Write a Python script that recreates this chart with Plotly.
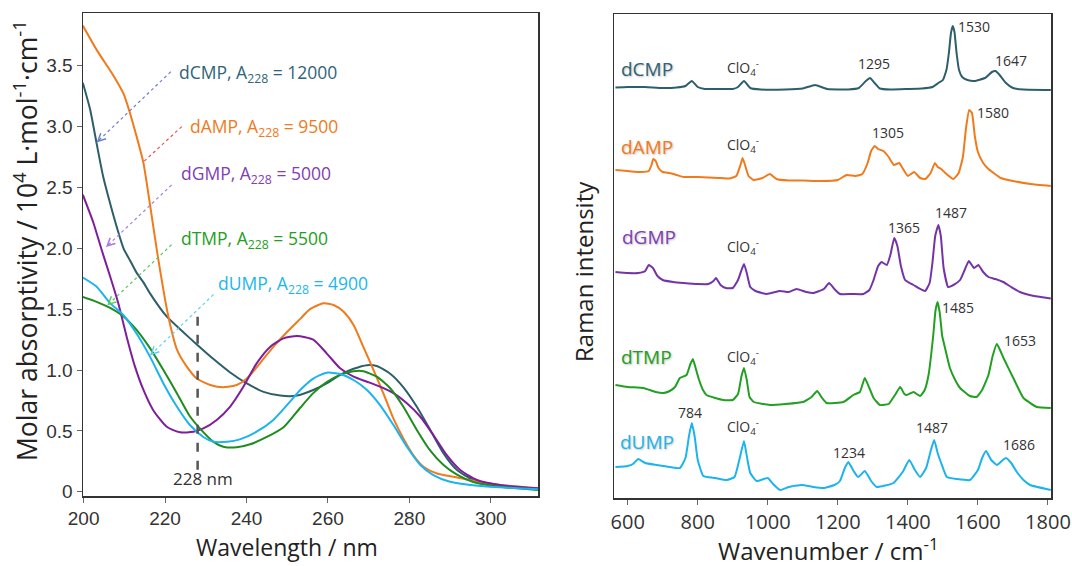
import plotly.graph_objects as go

# ---------------- UV absorption data (wavelength nm, 10^4 L/mol/cm) ----------------
dcmp_wl = [199.8, 201.6, 203.2, 204.8, 206.5, 208.1, 209.8, 211.4, 213.0, 214.7, 216.3, 220.4, 224.5,
           227.8, 231.9, 236.0, 240.1, 244.2, 248.3, 252.4, 256.4, 259.7, 263.0, 266.3, 269.6, 272.0,
           275.3, 278.5, 281.8, 285.1, 288.4, 291.7, 295.7, 300.7, 311.6]
dcmp_uv = [3.36, 3.14, 2.86, 2.59, 2.37, 2.18, 2.00, 1.90, 1.80, 1.72, 1.63, 1.44, 1.31,
           1.21, 1.09, 0.98, 0.89, 0.82, 0.79, 0.79, 0.836, 0.89, 0.96, 1.01, 1.04, 1.033,
           0.97, 0.86, 0.70, 0.51, 0.315, 0.178, 0.096, 0.055, 0.02]

damp_wl = [199.8, 203.2, 207.3, 209.8, 211.4, 213.0, 214.7, 216.3, 218.1, 220.0, 221.2, 222.9,
           225.3, 227.8, 231.1, 234.3, 237.6, 240.1, 243.3, 246.6, 249.9, 253.2, 255.6, 258.9, 261.4,
           263.8, 266.3, 268.7, 271.2, 273.6, 276.1, 278.5, 281.0, 283.5, 286.8, 290.8, 295.7, 302.3, 311.6]
damp_uv = [3.83, 3.63, 3.42, 3.27, 3.11, 2.92, 2.70, 2.36, 1.96, 1.58, 1.38, 1.17,
           1.03, 0.93, 0.877, 0.858, 0.877, 0.93, 1.055, 1.19, 1.31, 1.42, 1.50, 1.548, 1.534,
           1.48, 1.37, 1.19, 1.00, 0.81, 0.60, 0.44, 0.30, 0.205, 0.15, 0.123, 0.09, 0.055, 0.028]

dgmp_wl = [199.8, 202.4, 204.4, 206.5, 208.5, 210.6, 212.6, 214.7, 217.1, 220.4, 223.7, 227.0, 229.4,
           232.7, 236.0, 239.2, 242.5, 245.8, 249.1, 252.4, 256.4, 259.7, 263.0, 266.3, 269.6, 272.8,
           276.1, 279.4, 282.7, 285.9, 289.2, 292.5, 296.6, 302.3, 311.6]
dgmp_uv = [2.44, 2.21, 1.99, 1.77, 1.55, 1.27, 1.03, 0.836, 0.67, 0.534, 0.488, 0.493, 0.52,
           0.59, 0.70, 0.86, 1.055, 1.19, 1.26, 1.28, 1.25, 1.137, 1.014, 0.945, 0.904, 0.863,
           0.81, 0.726, 0.616, 0.466, 0.30, 0.178, 0.096, 0.055, 0.028]

dtmp_wl = [199.8, 203.2, 206.5, 209.8, 213.0, 216.3, 219.6, 222.9, 226.1, 229.4, 231.9, 234.3, 237.6,
           240.9, 245.0, 249.1, 253.2, 256.4, 259.7, 263.0, 266.3, 268.7, 272.0, 275.3, 278.5, 281.8,
           285.1, 288.4, 291.7, 295.7, 300.7, 311.6]
dtmp_uv = [1.60, 1.56, 1.51, 1.44, 1.33, 1.18, 1.00, 0.81, 0.62, 0.49, 0.41, 0.37, 0.365,
           0.39, 0.45, 0.53, 0.69, 0.81, 0.90, 0.96, 0.99, 0.99, 0.945, 0.85, 0.70, 0.51,
           0.34, 0.22, 0.14, 0.08, 0.047, 0.015]

dump_wl = [199.8, 203.2, 206.5, 209.8, 213.0, 216.3, 219.6, 222.9, 226.1, 229.4, 231.9, 235.2, 238.4,
           242.5, 246.6, 250.7, 253.2, 256.4, 259.7, 263.0, 266.3, 269.6, 272.8, 276.1, 279.4, 282.7,
           285.9, 290.0, 294.1, 302.3, 311.6]
dump_uv = [1.76, 1.685, 1.55, 1.45, 1.30, 1.11, 0.89, 0.70, 0.548, 0.45, 0.41, 0.41, 0.43,
           0.493, 0.59, 0.74, 0.836, 0.93, 0.978, 0.967, 0.918, 0.836, 0.712, 0.548, 0.37, 0.22,
           0.137, 0.082, 0.06, 0.036, 0.02]

uv_ticks = [0, 0.5, 1.0, 1.5, 2.0, 2.5, 3.0, 3.5]
uv_ticktext = ["0", "0.5", "1.0", "1.5", "2.0", "2.5", "3.0", "3.5"]

# ---------------- Raman data (wavenumber cm-1, stacked intensity a.u.) ----------------
dcmp_nu = [565, 600, 650, 700, 740, 765, 783, 800, 820, 860, 900, 915, 932, 950, 980, 1050, 1100,
           1135, 1170, 1230, 1260, 1280, 1292, 1305, 1320, 1350, 1400, 1440, 1470, 1487, 1500, 1510,
           1517, 1523, 1528, 1533, 1539, 1546, 1555, 1570, 1590, 1620, 1640, 1650, 1662, 1680, 1700,
           1730, 1808]
dcmp_ra = [410.5, 411, 411, 410, 410.5, 412, 417, 411, 409, 409, 409, 411, 417, 410, 408.5, 408.5, 409.5,
           413, 409, 408.5, 410, 417, 420, 415, 409.5, 408.5, 409, 409.5, 411, 415, 418, 428,
           445, 465, 472, 466, 445, 428, 421, 418, 417, 420, 426, 427, 423, 415, 410,
           408.5, 408]

damp_nu = [565, 600, 640, 660, 668, 673, 680, 688, 700, 720, 740, 760, 800, 830, 860, 890, 910, 922,
           928, 935, 945, 960, 985, 1006, 1025, 1060, 1100, 1150, 1200, 1225, 1250, 1270, 1285, 1295,
           1305, 1315, 1330, 1345, 1360, 1375, 1388, 1400, 1418, 1435, 1450, 1465, 1477, 1485, 1495,
           1510, 1530, 1545, 1557, 1566, 1575, 1583, 1591, 1600, 1615, 1630, 1645, 1665, 1700, 1750, 1808]
damp_ra = [328, 327, 326, 327, 333, 339, 337, 330, 326, 325, 323, 321, 321, 320.5, 320, 319.5, 322, 333,
           340, 333, 322, 318, 320, 324, 319, 317.5, 317.5, 317, 318, 323, 322, 324, 335, 347,
           352, 349, 347, 341, 333, 335, 328, 322, 326, 320, 319, 325, 335, 331, 329,
           324, 319, 325, 341, 370, 388, 385, 362, 346, 335, 329, 325, 320, 317, 314, 312]

dgmp_nu = [565, 600, 630, 650, 660, 672, 685, 700, 730, 760, 800, 830, 845, 852, 865, 880, 900, 915,
           925, 932, 940, 950, 965, 997, 1035, 1060, 1082, 1110, 1130, 1160, 1175, 1190, 1206, 1240,
           1273, 1290, 1302, 1315, 1325, 1340, 1350, 1361, 1370, 1380, 1392, 1405, 1416, 1430, 1449,
           1462, 1470, 1478, 1487, 1494, 1502, 1515, 1530, 1549, 1562, 1574, 1589, 1601, 1615, 1630,
           1650, 1672, 1695, 1720, 1760, 1808]
dgmp_ra = [226, 225, 225, 227, 233, 230, 222, 218, 216, 215, 214, 214, 217, 220, 213, 210, 210, 218,
           228, 234, 225, 211, 207, 204, 207, 206, 209, 206, 205, 209, 215, 209, 204, 204,
           204, 208, 218, 232, 236, 233, 243, 260, 252, 232, 218, 215, 213, 210, 207,
           215, 235, 262, 273, 262, 230, 211, 213, 218, 228, 237, 230, 233, 226, 221,
           219, 216, 211, 206, 202, 199.5]

dtmp_nu = [565, 600, 645, 680, 702, 720, 735, 749, 768, 778, 786, 794, 802, 815, 825, 850, 873, 900,
           915, 925, 932, 940, 948, 960, 1006, 1050, 1101, 1125, 1141, 1155, 1168, 1216, 1244, 1263,
           1277, 1290, 1302, 1320, 1345, 1365, 1378, 1390, 1397, 1416, 1435, 1448, 1459, 1467, 1473,
           1479, 1485, 1491, 1498, 1506, 1520, 1535, 1549, 1577, 1596, 1612, 1630, 1642, 1654, 1663,
           1673, 1701, 1730, 1768, 1808]
dtmp_ra = [113, 111, 110, 106, 105, 107, 111, 120, 123, 133, 139, 130, 120, 108, 103, 100, 98, 98,
           104, 122, 130, 118, 101, 96, 93, 94, 96, 101, 107, 100, 95, 96, 103, 106,
           120, 110, 100, 93, 94, 104, 111, 104, 103, 106, 102, 108, 123, 145, 165,
           188, 196, 185, 162, 150, 130, 118, 110, 102, 101, 108, 123, 142, 154, 148,
           140, 120, 100, 91, 90]

dump_nu = [565, 600, 615, 630, 650, 683, 720, 749, 765, 775, 783, 791, 800, 816, 850, 883, 905, 920,
           932, 942, 950, 968, 1000, 1015, 1035, 1060, 1097, 1130, 1159, 1190, 1206, 1220, 1230, 1245,
           1258, 1277, 1295, 1311, 1359, 1385, 1404, 1420, 1435, 1452, 1465, 1475, 1485, 1495, 1511,
           1540, 1577, 1600, 1612, 1623, 1638, 1654, 1668, 1680, 1695, 1711, 1730, 1749, 1808]
dump_ra = [31, 32, 34, 39, 35, 33, 31, 30, 40, 62, 75, 62, 38, 22, 20, 18, 21, 40,
           57, 38, 25, 17, 20, 14, 8, 11, 13, 11, 10, 13, 17, 30, 36, 27,
           21, 27, 17, 11, 15, 26, 38, 28, 21, 30, 47, 58, 45, 35, 21,
           19, 18, 28, 40, 47, 38, 33, 37, 40, 35, 26, 18, 13, 8]

names = ["dCMP", "dAMP", "dGMP", "dTMP", "dUMP"]
uv_labels = ["12000", "9500", "5000", "5500", "4900"]
raman_peaks = [("dCMP", [1295, 1530, 1647]), ("dAMP", [1305, 1580]), ("dGMP", [1365, 1487]),
               ("dTMP", [1485, 1653]), ("dUMP", [784, 1234, 1487, 1686])]

uv_colors = {"dCMP": "#2D5F6B", "dAMP": "#F07A1C", "dGMP": "#7E1E9C", "dTMP": "#1E8C1E", "dUMP": "#1CB3EE"}
ra_colors = {"dCMP": "#2D5F6B", "dAMP": "#F07A1C", "dGMP": "#7434A8", "dTMP": "#22A022", "dUMP": "#1CB3EE"}
lab_colors = {"dCMP": "#2F6478", "dAMP": "#F07A1C", "dGMP": "#8040B4", "dTMP": "#22A022", "dUMP": "#1CB6EE"}
arrow_colors = {"dCMP": "#6C80C8", "dAMP": "#E25656", "dGMP": "#A77AD8", "dTMP": "#5CC85C", "dUMP": "#60CCF2"}

uv_series = {"dCMP": (dcmp_wl, dcmp_uv), "dAMP": (damp_wl, damp_uv), "dGMP": (dgmp_wl, dgmp_uv),
             "dTMP": (dtmp_wl, dtmp_uv), "dUMP": (dump_wl, dump_uv)}
ra_series = {"dCMP": (dcmp_nu, dcmp_ra), "dAMP": (damp_nu, damp_ra), "dGMP": (dgmp_nu, dgmp_ra),
             "dTMP": (dtmp_nu, dtmp_ra), "dUMP": (dump_nu, dump_ra)}

fig = go.Figure()
for n in names:
    x, y = uv_series[n]
    fig.add_trace(go.Scatter(x=x, y=y, mode="lines", line=dict(color=uv_colors[n], width=2, shape="spline", smoothing=0.6),
                             xaxis="x", yaxis="y", showlegend=False, hoverinfo="skip"))
for n in names:
    x, y = ra_series[n]
    fig.add_trace(go.Scatter(x=x, y=y, mode="lines", line=dict(color=ra_colors[n], width=2, shape="spline", smoothing=0.4),
                             xaxis="x2", yaxis="y2", showlegend=False, hoverinfo="skip"))

W, H = 1072, 566
ann = []
shapes = []

# ---- Left panel annotations ----
text_pos = {"dCMP": (222.9, 3.44), "dAMP": (225.7, 2.99), "dGMP": (223.4, 2.61),
            "dTMP": (223.4, 2.07), "dUMP": (232.5, 1.70)}
arrows = {"dCMP": ((221.4, 3.45), (203.2, 2.87)), "dAMP": ((224.1, 3.00), (214.7, 2.71)),
          "dGMP": ((221.6, 2.52), (205.5, 2.01)), "dTMP": ((221.6, 2.03), (205.8, 1.53)),
          "dUMP": ((231.9, 1.62), (216.3, 1.12))}
for n, lab in zip(names, uv_labels):
    tx, ty = text_pos[n]
    ann.append(dict(x=tx, y=ty, xref="x", yref="y", xanchor="left", yanchor="middle", showarrow=False,
                    text=f"{n}, A<sub>228</sub> = {lab}",
                    font=dict(family="Open Sans", size=17.5, color=lab_colors[n])))
    (x0, y0), (x1, y1) = arrows[n]
    shapes.append(dict(type="line", xref="x", yref="y", x0=x0, y0=y0, x1=x1, y1=y1,
                       line=dict(color=arrow_colors[n], width=1.2, dash="dot")))
    fx = x1 + (x0 - x1) * 0.06
    fy = y1 + (y0 - y1) * 0.06
    ann.append(dict(x=x1, y=y1, ax=fx, ay=fy, xref="x", yref="y", axref="x", ayref="y", text="",
                    showarrow=True, arrowhead=5, arrowsize=1.5, arrowwidth=1, arrowcolor=arrow_colors[n]))

shapes.append(dict(type="line", xref="x", yref="y", x0=228, x1=228, y0=0.18, y1=1.48,
                   line=dict(color="#555555", width=2.5, dash="dash")))
ann.append(dict(x=229.3, y=0.11, xref="x", yref="y", xanchor="center", yanchor="middle", showarrow=False,
                text="228 nm", font=dict(family="Open Sans", size=17, color="#333333")))

# ---- Right panel annotations ----
ra_lab_pos = {"dCMP": (655, 429), "dAMP": (656.5, 351), "dGMP": (659.7, 261), "dTMP": (655, 141), "dUMP": (656.5, 56)}
for n in names:
    x, y = ra_lab_pos[n]
    ann.append(dict(x=x, y=y, xref="x2", yref="y2", xanchor="center", yanchor="middle", showarrow=False, text=n,
                    font=dict(family="Open Sans", size=19, color=lab_colors[n],
                              shadow="1px 1px 2px rgba(0,0,0,0.25)")))
clo4_y = {"dCMP": 429.7, "dAMP": 353, "dGMP": 251.3, "dTMP": 140.7, "dUMP": 71.3}
for n in names:
    ann.append(dict(x=930.6, y=clo4_y[n], xref="x2", yref="y2", xanchor="center", yanchor="middle",
                    showarrow=False, text="ClO<sub>4</sub><sup>-</sup>",
                    font=dict(family="Open Sans", size=14, color="#333333")))
peak_lab_pos = {("dCMP", 1295): (1303, 434), ("dCMP", 1530): (1589, 471), ("dCMP", 1647): (1694, 437),
                ("dAMP", 1305): (1342, 365), ("dAMP", 1580): (1642, 385),
                ("dGMP", 1365): (1389, 270), ("dGMP", 1487): (1523, 285),
                ("dTMP", 1485): (1543, 191), ("dTMP", 1653): (1720, 158),
                ("dUMP", 784): (778, 86), ("dUMP", 1234): (1232, 46), ("dUMP", 1487): (1470, 71),
                ("dUMP", 1686): (1717, 54)}
for n, peaks in raman_peaks:
    for p in peaks:
        x, y = peak_lab_pos[(n, p)]
        ann.append(dict(x=x, y=y, xref="x2", yref="y2", xanchor="center", yanchor="middle",
                        showarrow=False, text=str(p),
                        font=dict(family="Open Sans", size=14, color="#333333")))

# ---- axis titles ----
ann.append(dict(x=26 / W, y=1 - 241 / H, xref="paper", yref="paper", xanchor="center", yanchor="middle",
                showarrow=False, textangle=-90,
                text="Molar absorptivity / 10<sup>4</sup> L·mol<sup>-1</sup>·cm<sup>-1</sup>",
                font=dict(family="Open Sans", size=26.5, color="#222222")))
ann.append(dict(x=287 / W, y=1 - 547 / H, xref="paper", yref="paper", xanchor="center", yanchor="middle",
                showarrow=False, text="Wavelength / nm", font=dict(family="Open Sans", size=23, color="#222222")))
ann.append(dict(x=583 / W, y=1 - 272 / H, xref="paper", yref="paper", xanchor="center", yanchor="middle",
                showarrow=False, textangle=-90,
                text="Raman intensity", font=dict(family="Open Sans", size=24, color="#222222")))
ann.append(dict(x=828 / W, y=1 - 549 / H, xref="paper", yref="paper", xanchor="center", yanchor="middle",
                showarrow=False, text="Wavenumber / cm<sup>-1</sup>",
                font=dict(family="Open Sans", size=24, color="#222222")))

axis_common = dict(showline=True, mirror=True, linecolor="#333333", linewidth=1.5, showgrid=False,
                   zeroline=False, automargin=False)

fig.update_layout(
    template="none",
    width=W, height=H, margin=dict(l=0, r=0, t=0, b=0, pad=0, autoexpand=False), autosize=False,
    paper_bgcolor="white", plot_bgcolor="white", showlegend=False,
    xaxis=dict(domain=[83 / W, 538 / W], range=[199.85, 311.6], tick0=200, dtick=20, ticks="outside",
               ticklen=5, tickcolor="#666666", anchor="y",
               tickfont=dict(family="Liberation Sans", size=19, color="#333333"), **axis_common),
    yaxis=dict(domain=[1 - 496 / H, 1 - 13 / H], range=[-0.035, 3.933], tickvals=uv_ticks, ticktext=uv_ticktext,
               ticks="outside", ticklen=5, tickcolor="#666666", anchor="x",
               tickfont=dict(family="Liberation Sans", size=19, color="#333333"), **axis_common),
    xaxis2=dict(domain=[614 / W, 1051 / W], range=[560.9, 1808.6], tick0=600, dtick=200, ticks="outside",
                ticklen=5, tickcolor="#666666", anchor="y2",
                tickfont=dict(family="Open Sans", size=20, color="#333333"), **axis_common),
    yaxis2=dict(domain=[1 - 498 / H, 1 - 14 / H], range=[0, 484], showticklabels=False, ticks="",
                anchor="x2", **axis_common),
    annotations=ann, shapes=shapes,
)

fig.write_html("out.html", config={"displayModeBar": False, "staticPlot": True},
               post_script="document.body.style.margin='0px';document.body.style.overflow='hidden';")
